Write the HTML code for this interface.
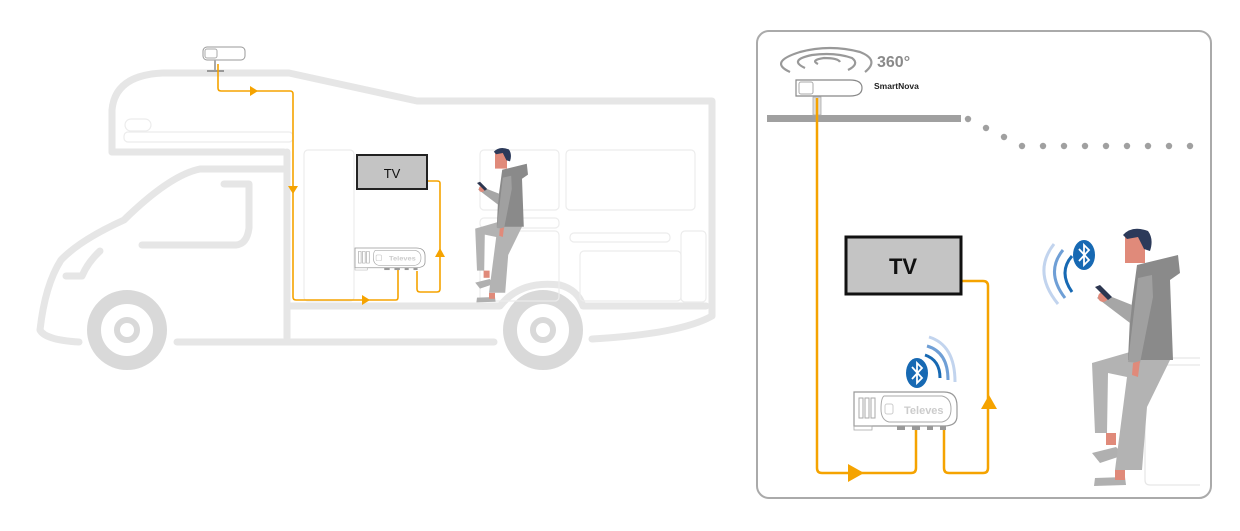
<!DOCTYPE html>
<html><head><meta charset="utf-8"><style>
html,body{margin:0;padding:0;background:#fff;}
svg{display:block;font-family:"Liberation Sans",sans-serif;}
</style></head><body>
<svg width="1240" height="531" viewBox="0 0 1240 531" xmlns="http://www.w3.org/2000/svg">
<defs>
 <g id="person">
  <polygon points="12,226 36,220 44,228 20,236" fill="#b0b0b0"/>
  <polygon points="15,251 45,250 46,258 14,259" fill="#b0b0b0"/>
  <rect x="26" y="206" width="10" height="12" fill="#e08a7a"/>
  <rect x="35" y="243" width="10" height="10" fill="#e08a7a"/>
  <polygon points="12,136 50,125 90,133 67,180 62,243 35,243 47,150 28,146 27,206 15,206" fill="#b3b3b3"/>
  <polygon points="57,38 98,28 100,46 90,53 93,133 48,133 50,90" fill="#8a8a8a"/>
  <polygon points="17,71 22,66 52,78 50,96" fill="#a6a6a6"/>
  <polygon points="58,51 72,48 73,70 60,136 48,135" fill="#a0a0a0"/>
  <rect x="45" y="10" width="20" height="26" fill="#e08a7a"/>
  <polygon points="53,136 60,134 58,150 52,148" fill="#e08a7a"/>
  <circle cx="23" cy="70" r="5" fill="#e08a7a"/>
  <polygon points="15,60 20,58 32,70 28,73" fill="#2c3650"/>
  <path d="M43,8 Q52,-2 68,4 Q74,12 70,24 L64,22 L58,10 L47,12 Z" fill="#2c3a5a"/>
 </g>
 <g id="amp">
  <path d="M0,0 H90 Q103,0 103,14 V24 Q103,34 90,34 H0 Z" fill="#fff" stroke="#999" stroke-width="1.2"/>
  <path d="M30,4 H88 Q97,6 97,17 Q97,28 88,30 H35 Q27,28 27,17 Q27,6 30,4Z" fill="#fff" stroke="#aaa"/>
  <rect x="5" y="6" width="4" height="20" fill="none" stroke="#aaa"/>
  <rect x="11" y="6" width="4" height="20" fill="none" stroke="#aaa"/>
  <rect x="17" y="6" width="4" height="20" fill="none" stroke="#aaa"/>
  <rect x="31" y="12" width="8" height="10" rx="2" fill="none" stroke="#ccc"/>
  <text x="50" y="22" font-size="11" font-weight="bold" fill="#ccc">Televes</text>
  <rect x="0" y="34" width="18" height="4" fill="none" stroke="#aaa" stroke-width="0.8"/>
  <rect x="43" y="34" width="8" height="4" fill="#999"/>
  <rect x="58" y="34" width="8" height="4" fill="#999"/>
  <rect x="73" y="34" width="6" height="4" fill="#999"/>
  <rect x="86" y="34" width="6" height="4" fill="#999"/>
 </g>
 <g id="bt">
  <ellipse cx="11" cy="15" rx="11" ry="15" fill="#1769b3"/>
  <path d="M6,9 L16,20 L11,25 V5 L16,10 L6,21" fill="none" stroke="#fff" stroke-width="1.8"/>
 </g>
</defs>

<!-- camper -->
<g fill="none" stroke="#e6e6e6" stroke-width="7" stroke-linecap="round" stroke-linejoin="round">
 <path d="M112,152 V110 Q115,75 163,73 H289 L417,101 H712 V316 Q680,334 592,339"/>
 <path d="M112,152 H284"/>
 <path d="M287,152 V338"/>
 <path d="M284,169 H200 Q170,175 124,220 Q80,240 61,260 Q45,285 40,330 Q45,340 79,342"/>
 <path d="M177,342 H494"/>
 <path d="M224,184 H249 V228 Q247,244 236,245 H142"/>
 <path d="M100,251 Q88,262 82,276 H66"/>
 <path d="M287,306 H500 Q520,280 560,285 Q578,290 583,306 H706"/>
</g>
<g fill="none" stroke="#d9d9d9" stroke-width="14">
 <circle cx="127" cy="330" r="33"/>
 <circle cx="543" cy="330" r="33"/>
</g>
<g fill="none" stroke="#d9d9d9" stroke-width="6">
 <circle cx="127" cy="330" r="10"/>
 <circle cx="543" cy="330" r="10"/>
</g>
<g fill="none" stroke="#ececec" stroke-width="1.2">
 <rect x="124" y="132" width="169" height="10" rx="4"/>
 <rect x="125" y="119" width="26" height="12" rx="6"/>
 <rect x="304" y="150" width="50" height="151" rx="4"/>
 <rect x="480" y="150" width="79" height="60" rx="4"/>
 <rect x="566" y="150" width="129" height="60" rx="4"/>
 <rect x="480" y="218" width="79" height="10" rx="4"/>
 <rect x="480" y="231" width="79" height="70" rx="4"/>
 <rect x="570" y="233" width="100" height="9" rx="4"/>
 <rect x="580" y="251" width="101" height="50" rx="4"/>
 <rect x="681" y="231" width="25" height="71" rx="4"/>
</g>

<!-- left antenna -->
<rect x="203" y="47" width="42" height="13" rx="4" fill="#fff" stroke="#999"/>
<rect x="205" y="49" width="12" height="9" rx="2" fill="none" stroke="#aaa"/>
<line x1="215" y1="60" x2="215" y2="70" stroke="#aaa" stroke-width="2"/>
<line x1="207" y1="71" x2="224" y2="71" stroke="#999" stroke-width="2"/>

<!-- left wiring -->
<g fill="none" stroke="#f5a300" stroke-width="1.6">
 <path d="M218,64 V88 Q218,91 221,91 H290 Q293,91 293,94 V297 Q293,300 296,300 H396 Q398,300 398,297 V270"/>
 <path d="M417,271 V289 Q417,292 420,292 H437 Q440,292 440,289 V183 Q440,181 437,181 H428"/>
</g>
<g fill="#f5a300">
 <polygon points="250,86 258,91 250,96"/>
 <polygon points="288,186 293,194 298,186"/>
 <polygon points="362,295 370,300 362,305"/>
 <polygon points="435,257 440,248 445,257"/>
</g>
<rect x="357" y="155" width="70" height="34" fill="#c4c4c4" stroke="#222" stroke-width="2"/>
<text x="392" y="178" font-size="13" text-anchor="middle" fill="#111">TV</text>
<use href="#amp" transform="translate(355,248) scale(0.68,0.58)"/>
<use href="#person" transform="translate(468,147) scale(0.6)"/>

<!-- right panel -->
<rect x="757" y="31" width="454" height="467" rx="12" fill="#fff" stroke="#aaa" stroke-width="2"/>
<rect x="767" y="115" width="194" height="7" fill="#a0a0a0"/>
<g fill="#a0a0a0">
 <circle cx="968" cy="119" r="3.2"/><circle cx="986" cy="128" r="3.2"/><circle cx="1004" cy="137" r="3.2"/>
 <circle cx="1022" cy="146" r="3.2"/><circle cx="1043" cy="146" r="3.2"/><circle cx="1064" cy="146" r="3.2"/>
 <circle cx="1085" cy="146" r="3.2"/><circle cx="1106" cy="146" r="3.2"/><circle cx="1127" cy="146" r="3.2"/>
 <circle cx="1148" cy="146" r="3.2"/><circle cx="1169" cy="146" r="3.2"/><circle cx="1190" cy="146" r="3.2"/>
</g>
<g fill="none" stroke="#999" stroke-width="2.2">
 <path d="M790,72 Q768,62 800,52 Q830,44 860,52 Q880,60 865,72"/>
 <path d="M805,68 Q788,60 812,55 Q835,52 852,58 Q860,64 848,70"/>
 <path d="M818,64 Q810,60 824,58 Q838,58 840,62"/>
</g>
<text x="877" y="67" font-size="16" font-weight="bold" fill="#8a8a8a">360°</text>
<text x="874" y="89" font-size="8.5" font-weight="bold" fill="#222">SmartNova</text>
<path d="M796,80 H850 Q862,80 862,88 Q862,96 850,96 H796 Z" fill="#fff" stroke="#888" stroke-width="1.2"/>
<rect x="799" y="82" width="14" height="12" rx="2" fill="none" stroke="#aaa"/>
<rect x="813" y="97" width="8" height="18" fill="#ddd" stroke="#aaa" stroke-width="0.8"/>

<g fill="none" stroke="#f5a300" stroke-width="2.5">
 <path d="M817,98 V468 Q817,473 822,473 H911 Q916,473 916,468 V430"/>
 <path d="M944,430 V468 Q944,473 949,473 H983 Q988,473 988,468 V286 Q988,281 983,281 H961"/>
</g>
<g fill="#f5a300">
 <polygon points="848,464 864,473 848,482"/>
 <polygon points="981,409 989,395 997,409"/>
</g>
<rect x="846" y="237" width="115" height="57" fill="#c4c4c4" stroke="#111" stroke-width="3"/>
<text x="903" y="274" font-size="22" font-weight="bold" text-anchor="middle" fill="#111">TV</text>
<use href="#amp" transform="translate(854,392)"/>
<use href="#bt" transform="translate(906,358)"/>
<g fill="none" stroke-width="3">
 <path d="M925,355 Q940,360 940,378" stroke="#1769b3"/>
 <path d="M927,346 Q948,352 948,380" stroke="#6f9fd6"/>
 <path d="M929,337 Q955,345 955,382" stroke="#c2d4ee"/>
</g>
<use href="#bt" transform="translate(1073,240)"/>
<g fill="none" stroke-width="3">
 <path d="M1072,256 Q1058,272 1072,292" stroke="#1769b3"/>
 <path d="M1063,250 Q1045,272 1065,298" stroke="#6f9fd6"/>
 <path d="M1054,244 Q1032,272 1058,304" stroke="#c2d4ee"/>
</g>
<g fill="none" stroke="#e6e6e6" stroke-width="1.2">
 <path d="M1200,358 H1160 M1200,365 H1152 M1145,370 V480 Q1145,485 1150,485 H1200"/>
</g>
<use href="#person" transform="translate(1080,227)"/>
</svg>
</body></html>
